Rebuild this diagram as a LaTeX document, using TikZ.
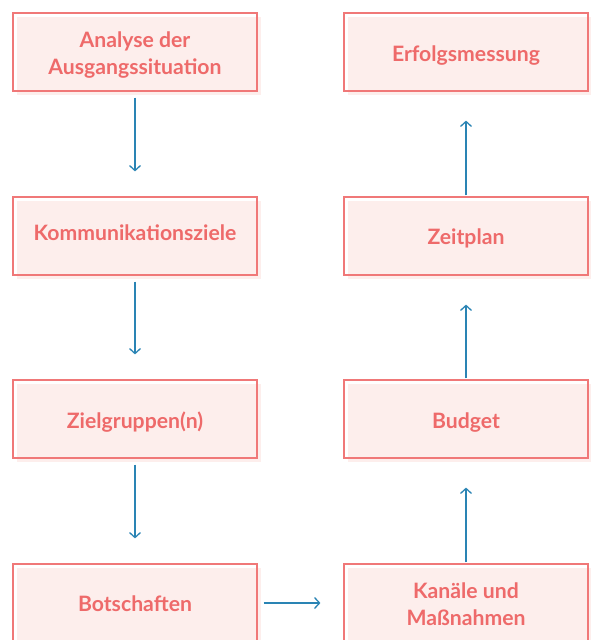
\documentclass[tikz,border=0pt]{standalone}
\usepackage{fontspec}
\setmainfont{Lato}
\usetikzlibrary{shadows,arrows.meta}
\definecolor{boxborder}{HTML}{F07878}
\definecolor{boxfill}{HTML}{FDEEEC}
\definecolor{boxtext}{HTML}{EE6A6A}
\definecolor{arrowblue}{HTML}{2A84B4}
\tikzset{
  stepbox/.style={draw=boxborder, line width=1.2pt, minimum width=244pt, minimum height=78pt,
    inner sep=0pt,
    general shadow={fill=boxfill, shadow xshift=4pt, shadow yshift=-4pt}},
  steplabel/.style={anchor=base, inner sep=0pt, text=boxtext, font=\fontsize{21.2}{27}\selectfont\bfseries},
  flow/.style={draw=arrowblue, line width=1.3pt, -{Straight Barb[length=5pt,width=11pt,line width=1.3pt]}}
}
\begin{document}
\begin{tikzpicture}[x=1pt,y=-1pt]
\useasboundingbox (0,0) rectangle (590,640);
\node[stepbox] (a) at (135,52) {};
\node[stepbox] (b) at (135,236) {};
\node[stepbox] (c) at (135,419) {};
\node[stepbox] (d) at (135,603) {};
\node[stepbox] (e) at (466,603) {};
\node[stepbox] (f) at (466,419) {};
\node[stepbox] (g) at (466,236) {};
\node[stepbox] (h) at (466,52) {};
\node[steplabel] (a1) at ([yshift=4.5pt]a.center) {Analyse der};
\node[steplabel] (a2) at ([yshift=-22.5pt]a.center) {Ausgangssituation};
\node[steplabel] (b1) at ([yshift=-4pt]b.center) {Kommunikationsziele};
\node[steplabel] (c1) at ([yshift=-9pt]c.center) {Zielgruppen(n)};
\node[steplabel] (d1) at ([yshift=-8.5pt]d.center) {Botschaften};
\node[steplabel] (e1) at ([yshift=4.5pt]e.center) {Kanäle und};
\node[steplabel] (e2) at ([yshift=-22.5pt]e.center) {Maßnahmen};
\node[steplabel] (f1) at ([yshift=-9pt]f.center) {Budget};
\node[steplabel] (g1) at ([yshift=-8.5pt]g.center) {Zeitplan};
\node[steplabel] (h1) at ([yshift=-9.5pt]h.center) {Erfolgsmessung};
\draw[flow, shorten <=6pt, shorten >=25pt] (a) -- (b);
\draw[flow, shorten <=6pt, shorten >=25pt] (b) -- (c);
\draw[flow, shorten <=6pt, shorten >=25pt] (c) -- (d);
\draw[flow, shorten <=6pt, shorten >=23pt] (d) -- (e);
\draw[flow, shorten <=1pt, shorten >=29pt] (e) -- (f);
\draw[flow, shorten <=1pt, shorten >=29pt] (f) -- (g);
\draw[flow, shorten <=1pt, shorten >=29pt] (g) -- (h);
\end{tikzpicture}
\end{document}
